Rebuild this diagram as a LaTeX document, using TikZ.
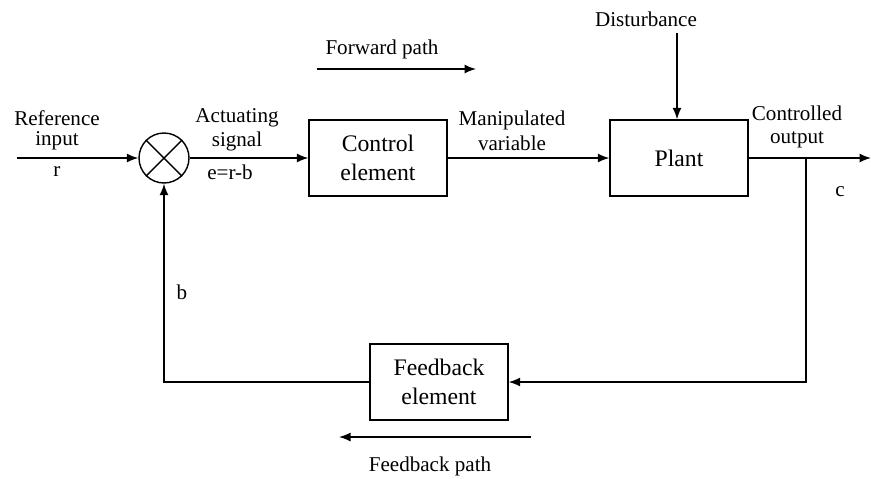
\documentclass[tikz,border=0pt]{standalone}
\usepackage{fontspec}
\setmainfont{Liberation Serif}
\usetikzlibrary{positioning,arrows.meta}

\begin{document}
\begin{tikzpicture}[
  x=0.02cm, y=-0.02cm,
  box/.style={draw, thick, minimum width=2.76cm, minimum height=1.52cm, inner sep=0pt, align=center,
    font=\fontsize{13.5}{16.5}\selectfont},
  lbl/.style={align=center, inner sep=0pt},
  >={Latex[length=2.3mm,width=1.8mm]},
  font=\fontsize{12}{14}\selectfont
]
  \useasboundingbox (0,0) rectangle (871,478);

  % blocks
  \node[draw, thick, circle, minimum size=1cm, inner sep=0pt] (sum) at (164,158) {};
  \draw[thick] (sum.north west) -- (sum.south east);
  \draw[thick] (sum.north east) -- (sum.south west);
  \node[box] (ctrl) at (378,158) {Control\\element};
  \node[box] (plant) at (679,158) {Plant};
  \node[box] (fb) at (439,382) {Feedback\\element};

  % free ends
  \coordinate (in) at (17,158);
  \coordinate (out) at (871,158);
  \coordinate (dist) at (677,33);
  \coordinate (tap) at (806,158);

  % signal lines
  \draw[thick,->] (in) -- (sum);
  \draw[thick,->] (sum) -- (ctrl);
  \draw[thick,->] (ctrl) -- (plant);
  \draw[thick,->] (dist) -- (plant.north -| dist);
  \draw[thick,->] (plant) -- (out);
  \draw[thick,->] (tap) |- (fb.east);
  \draw[thick,->] (fb.west) -| (sum.south);

  % labels
  \node[lbl] (ref) at (57,118) {Reference};
  \node[lbl] (inp) at (57,141) {input};
  \node[lbl] (r) at (57,172) {r};
  \node[lbl] (act) at (237,118) {Actuating};
  \node[lbl] (sig) at (237,141) {signal};
  \node[lbl] (e) at (230,172) {e=r-b};
  \node[lbl] (man) at (512,120) {Manipulated};
  \node[lbl] (var) at (512,143) {variable};
  \node[lbl] (con) at (797,113) {Controlled};
  \node[lbl] (outp) at (797,140) {output};
  \node[lbl] (c) at (840,192) {c};
  \node[lbl] (b) at (182,292) {b};
  \node[lbl] (dlbl) at (646,19) {Disturbance};

  % path directions
  \node[lbl] (fwd) at (382,49) {Forward path};
  \coordinate (fwda) at (317,69);
  \coordinate (fwdb) at (476,69);
  \draw[thick,->] (fwda) -- (fwdb);
  \node[lbl] (fbp) at (430,466) {Feedback path};
  \coordinate (fbpa) at (531,437);
  \coordinate (fbpb) at (339,437);
  \draw[thick,->] (fbpa) -- (fbpb);
\end{tikzpicture}
\end{document}
